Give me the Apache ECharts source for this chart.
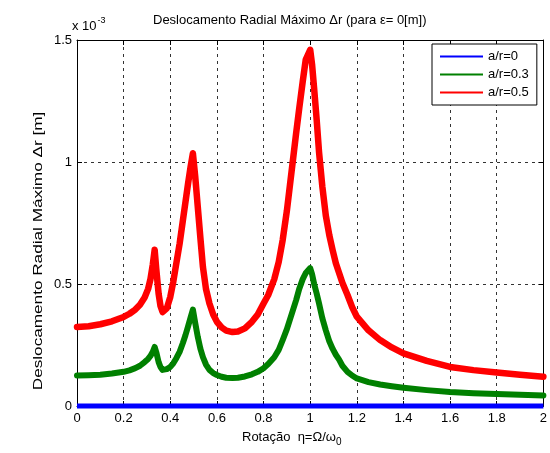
<!DOCTYPE html>
<html>
<head>
<meta charset="utf-8">
<script src="https://cdn.jsdelivr.net/npm/echarts@6/dist/echarts.min.js"></script>
<style>html,body{margin:0;padding:0;background:#fff;}#c{width:550px;height:453px;}</style>
</head>
<body>
<div id="c"></div>
<script>
var xVals = [0, 0.05, 0.1, 0.15, 0.2, 0.225, 0.25, 0.27, 0.29, 0.305, 0.315, 0.325, 0.333, 0.34, 0.35, 0.358, 0.367, 0.375, 0.385, 0.4, 0.413, 0.426, 0.44, 0.454, 0.465, 0.476, 0.487, 0.497, 0.507, 0.518, 0.529, 0.54, 0.553, 0.568, 0.584, 0.6, 0.62, 0.64, 0.667, 0.69, 0.72, 0.75, 0.775, 0.8, 0.82, 0.846, 0.865, 0.882, 0.9, 0.925, 0.94, 0.953, 0.968, 0.981, 1.0, 1.008, 1.017, 1.028, 1.038, 1.052, 1.067, 1.082, 1.096, 1.11, 1.124, 1.138, 1.16, 1.18, 1.2, 1.25, 1.3, 1.35, 1.4, 1.5, 1.6, 1.7, 1.8, 1.9, 2.0];
var red = [0.324, 0.327, 0.335, 0.347, 0.365, 0.378, 0.395, 0.415, 0.445, 0.48, 0.52, 0.58, 0.64, 0.56, 0.46, 0.41, 0.385, 0.385, 0.40, 0.447, 0.51, 0.585, 0.665, 0.76, 0.835, 0.91, 0.98, 1.036, 0.94, 0.815, 0.69, 0.57, 0.48, 0.42, 0.375, 0.345, 0.322, 0.309, 0.303, 0.305, 0.318, 0.345, 0.375, 0.42, 0.455, 0.52, 0.59, 0.68, 0.80, 1.0, 1.12, 1.22, 1.33, 1.42, 1.46, 1.40, 1.30, 1.17, 1.04, 0.90, 0.78, 0.70, 0.64, 0.585, 0.545, 0.505, 0.455, 0.405, 0.366, 0.31, 0.27, 0.24, 0.216, 0.185, 0.16, 0.147, 0.137, 0.128, 0.12];
var green = [0.125, 0.126, 0.128, 0.133, 0.14, 0.146, 0.155, 0.165, 0.18, 0.193, 0.205, 0.222, 0.242, 0.22, 0.18, 0.16, 0.148, 0.147, 0.151, 0.16, 0.175, 0.196, 0.222, 0.258, 0.29, 0.325, 0.362, 0.395, 0.34, 0.283, 0.235, 0.2, 0.17, 0.148, 0.135, 0.127, 0.12, 0.116, 0.115, 0.116, 0.121, 0.13, 0.14, 0.155, 0.172, 0.2, 0.23, 0.27, 0.315, 0.39, 0.435, 0.48, 0.52, 0.545, 0.565, 0.54, 0.50, 0.46, 0.42, 0.36, 0.31, 0.265, 0.235, 0.21, 0.19, 0.165, 0.14, 0.125, 0.113, 0.098, 0.088, 0.081, 0.075, 0.065, 0.057, 0.052, 0.049, 0.046, 0.043];
var blue = [0, 0, 0, 0, 0, 0, 0, 0, 0, 0, 0, 0, 0, 0, 0, 0, 0, 0, 0, 0, 0, 0, 0, 0, 0, 0, 0, 0, 0, 0, 0, 0, 0, 0, 0, 0, 0, 0, 0, 0, 0, 0, 0, 0, 0, 0, 0, 0, 0, 0, 0, 0, 0, 0, 0, 0, 0, 0, 0, 0, 0, 0, 0, 0, 0, 0, 0, 0, 0, 0, 0, 0, 0, 0, 0, 0, 0, 0, 0];
var seriesNames = ['a/r=0', 'a/r=0.3', 'a/r=0.5'];
var colors = ['#0000ff', '#008000', '#ff0000'];

function pairs(ys){ return xVals.map(function(x,i){ return [x, ys[i]]; }); }

var font = 'Liberation Sans, Arial, sans-serif';
var chart = echarts.init(document.getElementById('c'), null, {renderer:'canvas'});
var axisBase = {
  min: 0,
  axisLine: {show: true, onZero: false, lineStyle: {color: '#000', width: 1}},
  axisTick: {show: true, inside: true, length: 5, lineStyle: {color: '#000'}},
};
chart.setOption({
  animation: false,
  backgroundColor: '#fff',
  grid: {left: 77, right: 4, top: 40, bottom: 47, show: false},
  legend: {
    orient: 'vertical', left: 432, top: 44,
    padding: [6, 8, 6, 8], itemGap: 5, itemWidth: 43, itemHeight: 2,
    backgroundColor: '#fff', borderColor: '#000', borderWidth: 1,
    textStyle: {fontFamily: font, fontSize: 13, color: '#000', padding: [0,0,0,0]},
    data: seriesNames.map(function(n){ return {name: n, icon: 'rect'}; })
  },
  xAxis: [
    Object.assign({}, axisBase, {
      type: 'value', max: 2, interval: 0.2, position: 'bottom',
      axisLabel: {color: '#000', fontFamily: font, fontSize: 13, margin: 6},
      splitLine: {show: true, lineStyle: {color: '#000', type: [3, 4], width: 1, opacity: 0.8}}
    }),
    Object.assign({}, axisBase, {
      type: 'value', max: 2, interval: 0.2, position: 'top',
      axisLabel: {show: false}, splitLine: {show: false}
    })
  ],
  yAxis: [
    Object.assign({}, axisBase, {
      type: 'value', max: 1.5, interval: 0.5, position: 'left',
      axisLabel: {color: '#000', fontFamily: font, fontSize: 13, margin: 5},
      splitLine: {show: true, lineStyle: {color: '#000', type: [3, 4], width: 1, opacity: 0.8}}
    }),
    Object.assign({}, axisBase, {
      type: 'value', max: 1.5, interval: 0.5, position: 'right',
      axisLabel: {show: false}, splitLine: {show: false}
    })
  ],
  series: [
    {name: seriesNames[0], type: 'line', data: pairs(blue), showSymbol: false, clip: false,
     lineStyle: {color: colors[0], width: 5}, itemStyle: {color: colors[0]}, z: 5},
    {name: seriesNames[1], type: 'line', data: pairs(green), showSymbol: false,
     lineStyle: {color: colors[1], width: 6, join: 'round', cap: 'round'}, itemStyle: {color: colors[1]}, z: 3},
    {name: seriesNames[2], type: 'line', data: pairs(red), showSymbol: false,
     lineStyle: {color: colors[2], width: 6.5, join: 'round', cap: 'round'}, itemStyle: {color: colors[2]}, z: 4}
  ],
  graphic: [
    {type: 'text', left: 153, top: 14, style: {text: 'Deslocamento Radial Máximo Δr (para ε= 0[m])', font: '13px ' + font, fill: '#000'}},
    {type: 'text', left: 72, top: 16, style: {text: '{a|x 10}{b|-3}', font: '13px ' + font, fill: '#000',
      rich: {a: {fontSize: 13, fontFamily: font, fill: '#000', padding: [6,0,0,0]}, b: {fontSize: 9, fontFamily: font, fill: '#000', padding: [0,0,5,1]}}}},
    {type: 'text', left: 242, top: 431, style: {text: '{a|Rotação  η=Ω/ω}{b|0}', font: '13px ' + font, fill: '#000',
      rich: {a: {fontSize: 13, fontFamily: font, fill: '#000'}, b: {fontSize: 10, fontFamily: font, fill: '#000', padding: [9,0,0,0]}}}},
    {type: 'text', x: 38, y: 251, rotation: Math.PI / 2, scaleX: 1.32, style: {text: 'Deslocamento Radial Máximo Δr [m]', font: '13px ' + font, fill: '#000', align: 'center', verticalAlign: 'middle'}}
  ]
});
</script>
</body>
</html>
